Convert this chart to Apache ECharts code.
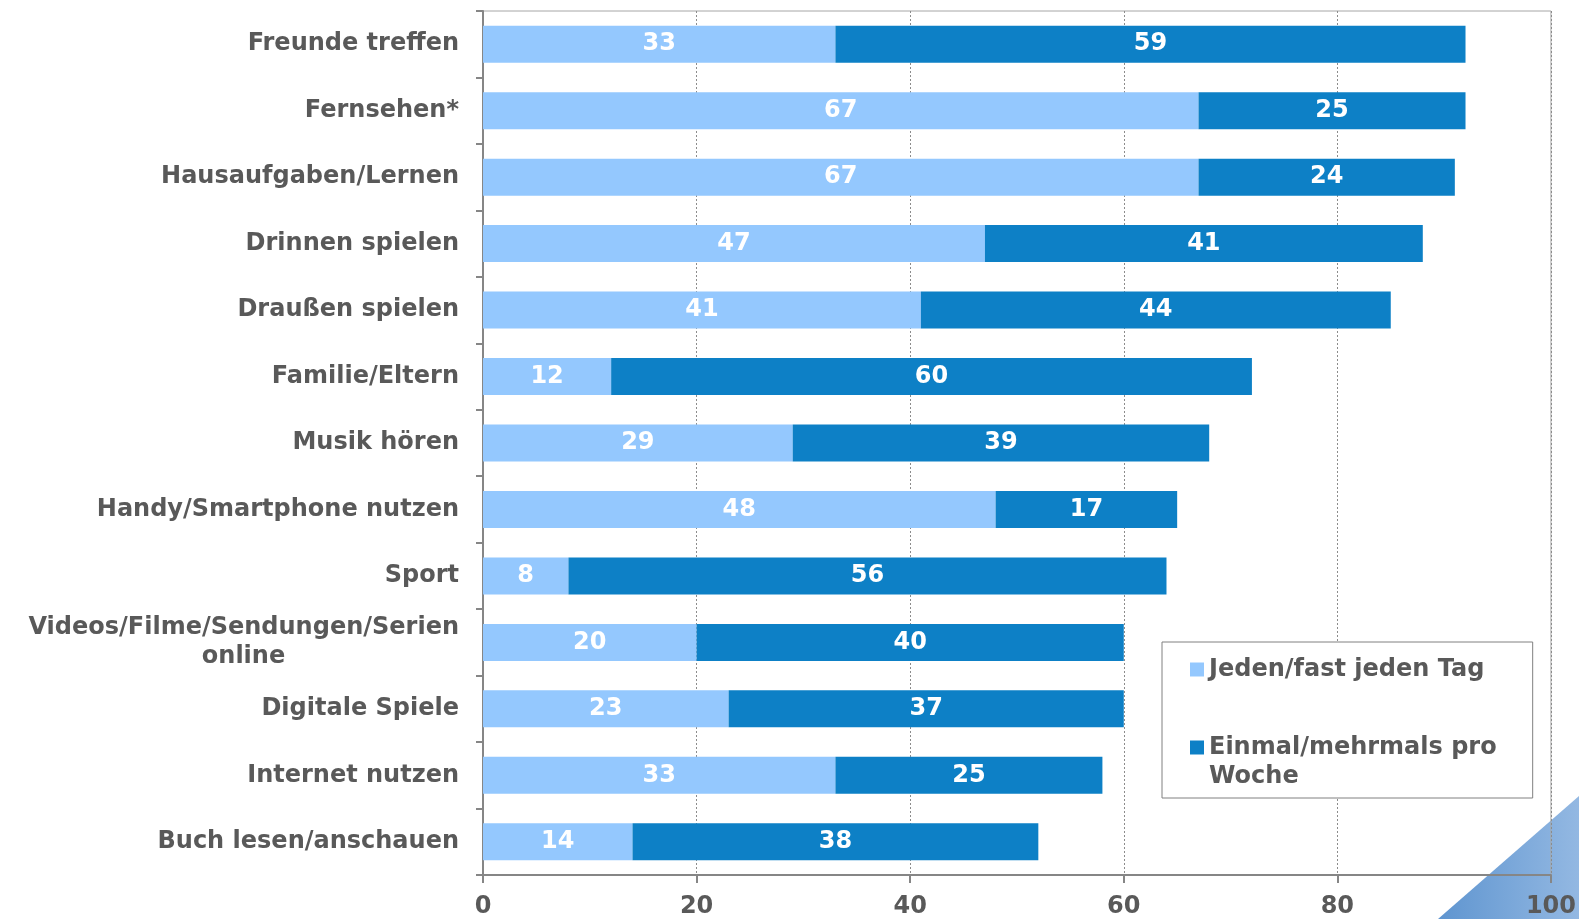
<!DOCTYPE html>
<html lang="de">
<head>
    <meta charset="UTF-8">
    <title>Freizeitaktivitäten</title>
    <script src="https://cdn.jsdelivr.net/npm/echarts@6/dist/echarts.min.js"></script>
    <style type="text/css">
        html, body {
            margin: 0;
            padding: 0;
            background: #ffffff;
        }

        #chart {
            width: 1579px;
            height: 919px;
        }
    </style>
</head>
<body>
<div id="chart"></div>
<script type="text/javascript">
    // Kategorien von oben nach unten
    const categories = [
        "Freunde treffen",
        "Fernsehen*",
        "Hausaufgaben/Lernen",
        "Drinnen spielen",
        "Draußen spielen",
        "Familie/Eltern",
        "Musik hören",
        "Handy/Smartphone nutzen",
        "Sport",
        "Videos/Filme/Sendungen/Serien\nonline",
        "Digitale Spiele",
        "Internet nutzen",
        "Buch lesen/anschauen"
    ];
    const dailyValues = [33, 67, 67, 47, 41, 12, 29, 48, 8, 20, 23, 33, 14];
    const weeklyValues = [59, 25, 24, 41, 44, 60, 39, 17, 56, 40, 37, 25, 38];
    const xTicks = [0, 20, 40, 60, 80, 100];

    const seriesNames = ["Jeden/fast jeden Tag", "Einmal/mehrmals pro Woche"];
    const textGrey = "#595959";
    const fontFamily = "DejaVu Sans";
    const fontSize = 24;

    const chart = echarts.init(document.getElementById("chart"));

    //Breite der ersten Zeile messen, damit die zweite Zeile darunter zentriert wird
    function textWidth(str) {
        let ctx = document.createElement("canvas").getContext("2d");
        ctx.font = "bold " + fontSize + "px '" + fontFamily + "'";
        return Math.ceil(ctx.measureText(str).width);
    }

    function catLabel(value) {
        if (value.indexOf("\n") !== -1) {
            let parts = value.split("\n");
            return "{a|" + parts[0] + "}\n{b|" + parts[1] + "}";
        }
        return value;
    }

    const multiLine = categories.filter(c => c.indexOf("\n") !== -1)[0];
    const firstLineWidth = textWidth(multiLine.split("\n")[0]);

    const option = {
        animation: false,
        backgroundColor: "#ffffff",
        textStyle: {fontFamily: fontFamily},
        grid: {
            left: 483,
            right: 28,
            top: 11,
            bottom: 43,
            show: true,
            borderColor: "#a6a6a6",
            borderWidth: 1
        },
        legend: {
            orient: "vertical",
            left: 1162,
            top: 642,
            padding: [13, 36, 7, 28],
            itemWidth: 14,
            itemHeight: 14,
            itemGap: 20,
            borderColor: "#808080",
            borderWidth: 1,
            backgroundColor: "#ffffff",
            icon: "rect",
            formatter: name => {
                //Icon sitzt auf Höhe der ersten Zeile
                if (name === seriesNames[1]) {
                    return "\nEinmal/mehrmals pro\nWoche";
                }
                return name;
            },
            textStyle: {
                color: textGrey,
                fontSize: fontSize,
                fontWeight: "bold",
                fontFamily: fontFamily,
                lineHeight: 29
            },
            data: seriesNames
        },
        xAxis: {
            type: "value",
            min: xTicks[0],
            max: xTicks[xTicks.length - 1],
            interval: 20,
            axisLine: {show: true, lineStyle: {color: "#868686", width: 2}},
            axisTick: {show: true, length: 8, lineStyle: {color: "#868686", width: 2}},
            axisLabel: {
                color: textGrey,
                fontSize: fontSize,
                fontWeight: "bold",
                margin: 20
            },
            splitLine: {
                show: true,
                lineStyle: {color: "#8c8c8c", type: [2, 2], width: 1}
            }
        },
        yAxis: {
            type: "category",
            inverse: true,
            data: categories,
            axisLine: {show: true, lineStyle: {color: "#868686", width: 2}},
            axisTick: {show: true, length: 7, lineStyle: {color: "#868686", width: 2}},
            axisLabel: {
                color: textGrey,
                fontSize: fontSize,
                fontWeight: "bold",
                margin: 24,
                lineHeight: 29,
                formatter: catLabel,
                rich: {
                    a: {
                        color: textGrey, fontSize: fontSize, fontWeight: "bold",
                        fontFamily: fontFamily, lineHeight: 29
                    },
                    b: {
                        color: textGrey, fontSize: fontSize, fontWeight: "bold",
                        fontFamily: fontFamily, lineHeight: 29,
                        width: firstLineWidth, align: "center"
                    }
                }
            },
            splitLine: {show: false}
        },
        graphic: [
            {
                type: "polygon",
                z: -1,
                silent: true,
                shape: {points: [[1438, 919], [1579, 796], [1579, 919]]},
                style: {
                    fill: {
                        type: "linear", x: 0, y: 0, x2: 1, y2: 0,
                        colorStops: [
                            {offset: 0, color: "#5f95d0"},
                            {offset: 1, color: "#93b8e2"}
                        ]
                    }
                }
            }
        ],
        series: [
            {
                name: seriesNames[0],
                type: "bar",
                stack: "total",
                barWidth: 37,
                data: dailyValues,
                itemStyle: {color: "#94c8fe"},
                label: {
                    show: true,
                    position: "inside",
                    color: "#ffffff",
                    fontSize: fontSize,
                    fontWeight: "bold"
                }
            },
            {
                name: seriesNames[1],
                type: "bar",
                stack: "total",
                barWidth: 37,
                data: weeklyValues,
                itemStyle: {color: "#0d80c6"},
                label: {
                    show: true,
                    position: "inside",
                    color: "#ffffff",
                    fontSize: fontSize,
                    fontWeight: "bold"
                }
            }
        ]
    };

    chart.setOption(option);
</script>
</body>
</html>
